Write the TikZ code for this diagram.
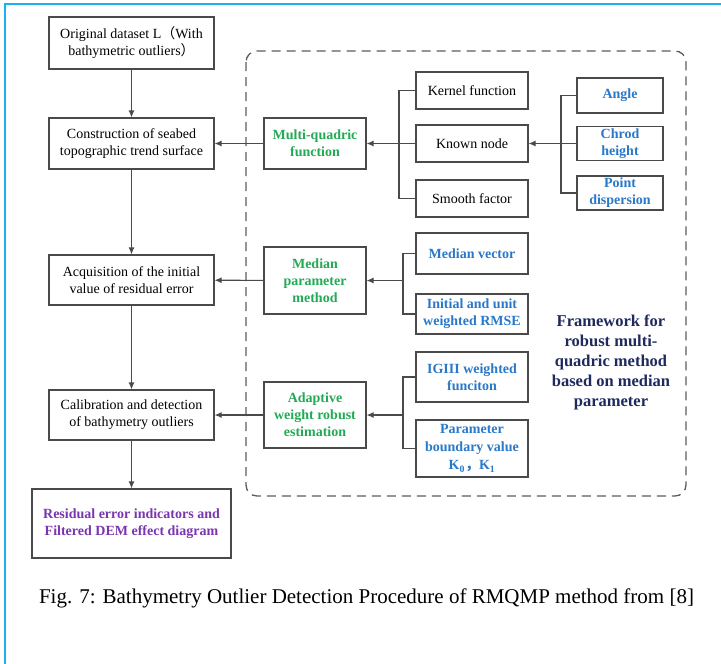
\documentclass[tikz,border=0pt]{standalone}
\usepackage{fontspec}
\setmainfont{Liberation Serif}
\newfontfamily\cjk{Noto Sans CJK SC}
\usetikzlibrary{arrows.meta}
\definecolor{linegray}{HTML}{4A4A4A}
\definecolor{framecyan}{HTML}{1CB2EC}
\definecolor{mqgreen}{HTML}{22AA55}
\definecolor{mqblue}{HTML}{2A78C8}
\definecolor{mqnavy}{HTML}{1E2A5E}
\definecolor{mqpurple}{HTML}{7A35B0}
\begin{document}
\begin{tikzpicture}[x=1pt,y=-1pt,
    every node/.style={font=\fontsize{14}{17}\selectfont,align=center,inner sep=0pt},
    box/.style={draw=linegray,line width=1.1pt,fill=white},
    stepbox/.style={box,minimum width=165pt,minimum height=51pt},
    methodbox/.style={box,minimum width=102pt,font=\fontsize{14}{17}\selectfont\bfseries,text=mqgreen},
    itembox/.style={box,minimum width=112pt},
    leafbox/.style={box,minimum width=86pt,minimum height=34pt,font=\fontsize{14}{17}\selectfont\bfseries,text=mqblue},
    link/.style={draw=linegray,line width=1.1pt},
    arr/.style={link,-{Latex[length=7pt,width=6pt]}}]
    \useasboundingbox (0,0) rectangle (721,664);
    \draw[framecyan,line width=2.2pt] (5,664) -- (5,4) -- (721,4);
    % framework frame
    \draw[linegray!90,line width=1.3pt,dash pattern=on 9pt off 6pt,rounded corners=11pt] (246,51) rectangle (686,496);
    \node[text=mqnavy,font=\fontsize{16.5}{20}\selectfont\bfseries] (fw) at (611,362)
        {Framework for\\robust multi-\\quadric method\\based on median\\parameter};
    % main steps
    \node[stepbox,minimum height=52pt] (orig) at (131.5,43) {Original dataset L{\cjk （}With\\bathymetric outliers{\cjk ）}};
    \node[stepbox] (constr) at (131.5,143.5) {Construction of seabed\\topographic trend surface};
    \node[stepbox,minimum height=50pt] (acq) at (131.5,280) {Acquisition of the initial\\value of residual error};
    \node[stepbox,minimum height=50pt] (calib) at (131.5,415) {Calibration and detection\\of bathymetry outliers};
    \node[box,minimum width=199pt,minimum height=69pt,font=\fontsize{14}{17}\selectfont\bfseries,text=mqpurple] (result) at (131.5,523.5)
        {Residual error indicators and\\Filtered DEM effect diagram};
    \draw[arr] (orig) -- (constr);
    \draw[arr] (constr) -- (acq);
    \draw[arr] (acq) -- (calib);
    \draw[arr] (calib) -- (result);
    % methods
    \node[methodbox,minimum height=51pt] (mq) at (315,143.5) {Multi-quadric\\function};
    \node[methodbox,minimum height=67pt] (median) at (315,280.5) {Median\\parameter\\method};
    \node[methodbox,minimum height=66pt] (adapt) at (315,415) {Adaptive\\weight robust\\estimation};
    \draw[arr] (mq) -- (constr);
    \draw[arr] (median) -- (acq);
    \draw[arr] (adapt) -- (calib);
    % multi-quadric items
    \node[itembox,minimum height=37pt] (kernel) at (472,90.5) {Kernel function};
    \node[itembox,minimum height=37pt] (known) at (472,143.5) {Known node};
    \node[itembox,minimum height=37pt] (smooth) at (472,198.5) {Smooth factor};
    \coordinate (jk) at (399,143.5);
    \draw[link] (kernel.west) -| (jk);
    \draw[link] (smooth.west) -| (jk);
    \draw[arr] (known) -- (mq);
    \node[leafbox,minimum height=35pt] (angle) at (620,95.5) {Angle};
    \node[leafbox] (chrod) at (620,143.5) {Chrod\\height};
    \node[leafbox] (point) at (620,193) {Point\\dispersion};
    \coordinate (ja) at (561,143.5);
    \draw[link] (angle.west) -| (ja);
    \draw[link] (point.west) -| (ja);
    \draw[arr] (chrod) -- (known);
    % median items
    \node[itembox,minimum height=41pt,font=\fontsize{14}{17}\selectfont\bfseries,text=mqblue] (mvec) at (472,253.5) {Median vector};
    \node[itembox,minimum height=40pt,font=\fontsize{14}{17}\selectfont\bfseries,text=mqblue] (rmse) at (472,314) {Initial and unit\\weighted RMSE};
    \coordinate (jm) at (403,280.5);
    \draw[link] (mvec.west) -| (jm);
    \draw[link] (rmse.west) -| (jm);
    \draw[arr] (jm) -- (median);
    % adaptive items
    \node[itembox,minimum height=50pt,font=\fontsize{14}{17}\selectfont\bfseries,text=mqblue] (igiii) at (472,377) {IGIII weighted\\funciton};
    \node[itembox,minimum height=57pt,font=\fontsize{14}{18}\selectfont\bfseries,text=mqblue] (param) at (472,448.5)
        {Parameter\\boundary value\\K\textsubscript{0}{\cjk ，}K\textsubscript{1}};
    \coordinate (jw) at (403,415);
    \draw[link] (igiii.west) -| (jw);
    \draw[link] (param.west) -| (jw);
    \draw[arr] (jw) -- (adapt);
    % caption
    \node[font=\fontsize{21}{25}\selectfont] (caption) at (366.5,598)
        {Fig. 7: Bathymetry Outlier Detection Procedure of RMQMP method from [8]};
\end{tikzpicture}
\end{document}
